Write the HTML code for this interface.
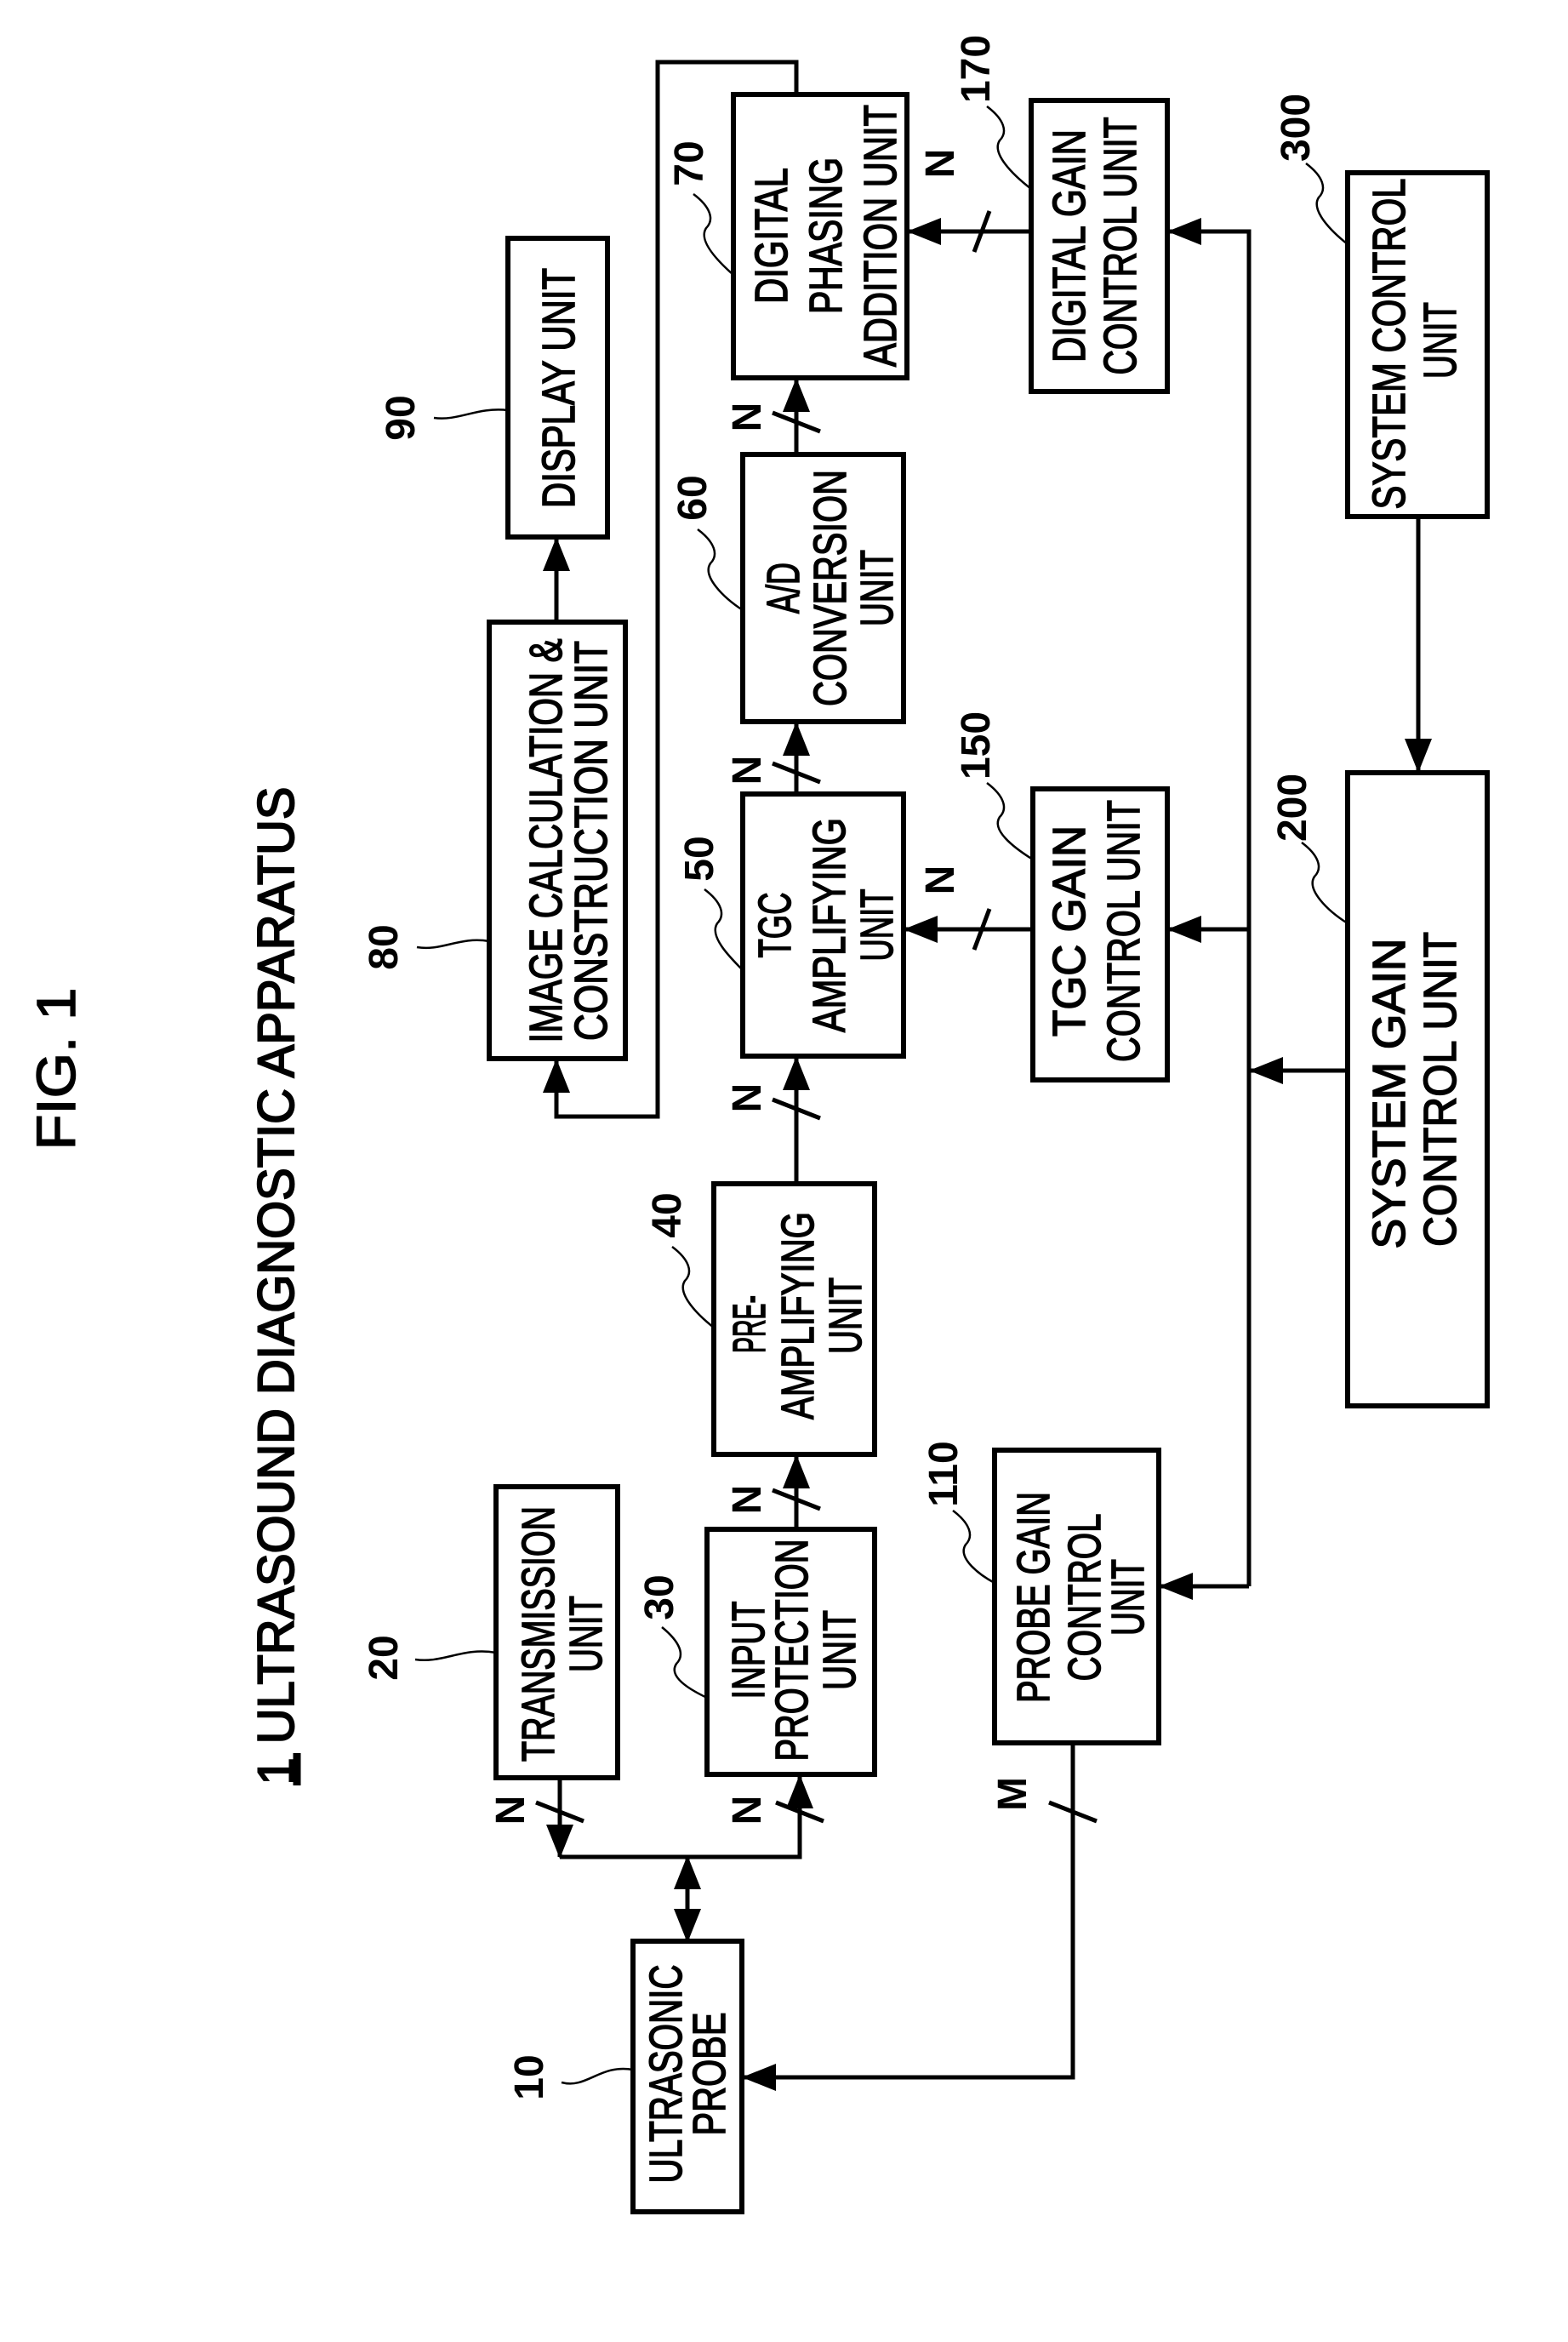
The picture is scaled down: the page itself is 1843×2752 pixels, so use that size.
<!DOCTYPE html>
<html><head><meta charset="utf-8"><style>
html,body{margin:0;padding:0;background:#fff;}
svg{display:block;}
text{font-family:"Liberation Sans",sans-serif;fill:#000;}
.b{font-size:54px;stroke:#000;stroke-width:1.6px;}
.n{font-size:48px;font-weight:bold;}
</style></head><body>
<svg width="1843" height="2752" viewBox="0 0 1843 2752" xmlns="http://www.w3.org/2000/svg">
<defs>
<marker id="a" markerUnits="userSpaceOnUse" markerWidth="40" markerHeight="32" refX="38" refY="16" orient="auto-start-reverse">
<path d="M0,0 L40,16 L0,32 Z" fill="#000"/></marker>
</defs>
<g fill="none" stroke="#000" stroke-width="6">
<rect x="597" y="280" width="117" height="351"/>
<rect x="575" y="731" width="160" height="513"/>
<rect x="862" y="111" width="204" height="333"/>
<rect x="873" y="534" width="189" height="314"/>
<rect x="873" y="933" width="189" height="308"/>
<rect x="1212" y="118" width="160" height="342"/>
<rect x="1214" y="927" width="158" height="342"/>
<rect x="1584" y="203" width="164" height="404"/>
<rect x="1584" y="908" width="164" height="744"/>
<rect x="839" y="1391" width="189" height="318"/>
<rect x="831" y="1797" width="197" height="288"/>
<rect x="583" y="1747" width="143" height="342"/>
<rect x="1169" y="1704" width="193" height="344"/>
<rect x="744" y="2281" width="128" height="318"/>
</g>
<g fill="none" stroke="#000" stroke-width="5">
<line x1="936" y1="1797" x2="936" y2="1711" marker-end="url(#a)"/>
<line x1="936" y1="1391" x2="936" y2="1243" marker-end="url(#a)"/>
<line x1="936" y1="933" x2="936" y2="850" marker-end="url(#a)"/>
<line x1="936" y1="534" x2="936" y2="446" marker-end="url(#a)"/>
<polyline points="936,111 936,73 773,73 773,1312 654,1312 654,1246" marker-end="url(#a)"/>
<line x1="654" y1="731" x2="654" y2="633" marker-end="url(#a)"/>
<polyline points="658,2089 658,2182"/>
<line x1="658" y1="2120" x2="658" y2="2182" marker-end="url(#a)"/>
<polyline points="658,2182 940,2182 940,2087" marker-end="url(#a)"/>
<line x1="808" y1="2182" x2="808" y2="2281" marker-start="url(#a)" marker-end="url(#a)"/>
<polyline points="1261,2048 1261,2441 874,2441" marker-end="url(#a)"/>
<line x1="1212" y1="272" x2="1068" y2="272" marker-end="url(#a)"/>
<line x1="1214" y1="1092" x2="1064" y2="1092" marker-end="url(#a)"/>
<polyline points="1468,1864 1468,272 1374,272" marker-end="url(#a)"/>
<line x1="1468" y1="1092" x2="1374" y2="1092" marker-end="url(#a)"/>
<line x1="1468" y1="1864" x2="1364" y2="1864" marker-end="url(#a)"/>
<line x1="1584" y1="1258" x2="1470" y2="1258" marker-end="url(#a)"/>
<line x1="1667" y1="607" x2="1667" y2="906" marker-end="url(#a)"/>
<line x1="630" y1="2118" x2="686" y2="2140"/>
<line x1="912" y1="2118" x2="968" y2="2140"/>
<line x1="908" y1="1751" x2="964" y2="1773"/>
<line x1="908" y1="1292" x2="964" y2="1314"/>
<line x1="908" y1="897" x2="964" y2="919"/>
<line x1="908" y1="485" x2="964" y2="507"/>
<line x1="1145" y1="296" x2="1163" y2="248"/>
<line x1="1145" y1="1116" x2="1163" y2="1068"/>
<line x1="1233" y1="2118" x2="1289" y2="2140"/>
<line x1="349" y1="2060" x2="349" y2="2098" stroke-width="9"/>
</g>
<g fill="none" stroke="#000" stroke-width="2.5">
<path d="M510,491 C540,495 560,478 597,482"/>
<path d="M490,1113 C520,1118 540,1100 575,1106"/>
<path d="M488,1950 C520,1955 545,1935 583,1942"/>
<path d="M660,2447 C690,2455 705,2425 744,2432"/>
<path d="M778,1912 C800,1930 805,1945 795,1955 C785,1970 810,1985 831,1995"/>
<path d="M790,1465 C810,1480 815,1495 805,1505 C795,1520 820,1545 839,1560"/>
<path d="M828,1045 C848,1060 853,1075 843,1085 C833,1100 858,1125 873,1140"/>
<path d="M820,622 C840,637 845,652 835,662 C825,677 850,702 873,717"/>
<path d="M815,228 C835,243 840,258 830,268 C820,283 845,308 862,323"/>
<path d="M1120,1775 C1140,1790 1145,1805 1135,1815 C1125,1830 1150,1850 1169,1860"/>
<path d="M1160,920 C1180,935 1185,950 1175,960 C1165,975 1190,995 1214,1010"/>
<path d="M1160,125 C1180,140 1185,155 1175,165 C1165,180 1190,205 1212,222"/>
<path d="M1530,990 C1550,1005 1555,1020 1545,1030 C1535,1045 1560,1070 1584,1085"/>
<path d="M1535,192 C1555,207 1560,222 1550,232 C1540,247 1565,272 1584,287"/>
</g>
<text transform="translate(88,1256) rotate(-90)" text-anchor="middle" font-size="64" stroke="#000" stroke-width="1.5" textLength="191" lengthAdjust="spacingAndGlyphs">FIG. 1</text>
<text transform="translate(345,1511) rotate(-90)" text-anchor="middle" font-size="60" stroke="#000" stroke-width="2" textLength="1173" lengthAdjust="spacingAndGlyphs">1 ULTRASOUND DIAGNOSTIC APPARATUS</text>
<g class="b" text-anchor="middle">
<text transform="translate(675,456) rotate(-90)" textLength="282" lengthAdjust="spacingAndGlyphs">DISPLAY UNIT</text>
<text transform="translate(660,988) rotate(-90)" textLength="475" lengthAdjust="spacingAndGlyphs">IMAGE CALCULATION &amp;</text>
<text transform="translate(713,988) rotate(-90)" textLength="470" lengthAdjust="spacingAndGlyphs">CONSTRUCTION UNIT</text>
<text transform="translate(925,277) rotate(-90)" textLength="160" lengthAdjust="spacingAndGlyphs">DIGITAL</text>
<text transform="translate(989,277) rotate(-90)" textLength="184" lengthAdjust="spacingAndGlyphs">PHASING</text>
<text transform="translate(1053,277) rotate(-90)" textLength="308" lengthAdjust="spacingAndGlyphs">ADDITION UNIT</text>
<text transform="translate(939,691) rotate(-90)" textLength="60" lengthAdjust="spacingAndGlyphs">A/D</text>
<text transform="translate(994,691) rotate(-90)" textLength="278" lengthAdjust="spacingAndGlyphs">CONVERSION</text>
<text transform="translate(1049,691) rotate(-90)" textLength="90" lengthAdjust="spacingAndGlyphs">UNIT</text>
<text transform="translate(929,1087) rotate(-90)" textLength="77" lengthAdjust="spacingAndGlyphs">TGC</text>
<text transform="translate(993,1087) rotate(-90)" textLength="252" lengthAdjust="spacingAndGlyphs">AMPLIFYING</text>
<text transform="translate(1049,1087) rotate(-90)" textLength="85" lengthAdjust="spacingAndGlyphs">UNIT</text>
<text transform="translate(1275,289) rotate(-90)" textLength="274" lengthAdjust="spacingAndGlyphs">DIGITAL GAIN</text>
<text transform="translate(1335,289) rotate(-90)" textLength="303" lengthAdjust="spacingAndGlyphs">CONTROL UNIT</text>
<text transform="translate(1275,1094) rotate(-90)" textLength="248" lengthAdjust="spacingAndGlyphs">TGC GAIN</text>
<text transform="translate(1339,1094) rotate(-90)" textLength="308" lengthAdjust="spacingAndGlyphs">CONTROL UNIT</text>
<text transform="translate(1651,404) rotate(-90)" textLength="389" lengthAdjust="spacingAndGlyphs">SYSTEM CONTROL</text>
<text transform="translate(1711,400) rotate(-90)" textLength="90" lengthAdjust="spacingAndGlyphs">UNIT</text>
<text transform="translate(1651,1285) rotate(-90)" textLength="365" lengthAdjust="spacingAndGlyphs">SYSTEM GAIN</text>
<text transform="translate(1711,1280) rotate(-90)" textLength="370" lengthAdjust="spacingAndGlyphs">CONTROL UNIT</text>
<text transform="translate(899,1556) rotate(-90)" textLength="68" lengthAdjust="spacingAndGlyphs">PRE-</text>
<text transform="translate(956,1546) rotate(-90)" textLength="244" lengthAdjust="spacingAndGlyphs">AMPLIFYING</text>
<text transform="translate(1012,1546) rotate(-90)" textLength="90" lengthAdjust="spacingAndGlyphs">UNIT</text>
<text transform="translate(898,1939) rotate(-90)" textLength="115" lengthAdjust="spacingAndGlyphs">INPUT</text>
<text transform="translate(949,1939) rotate(-90)" textLength="261" lengthAdjust="spacingAndGlyphs">PROTECTION</text>
<text transform="translate(1005,1939) rotate(-90)" textLength="94" lengthAdjust="spacingAndGlyphs">UNIT</text>
<text transform="translate(651,1920) rotate(-90)" textLength="300" lengthAdjust="spacingAndGlyphs">TRANSMISSION</text>
<text transform="translate(707,1920) rotate(-90)" textLength="90" lengthAdjust="spacingAndGlyphs">UNIT</text>
<text transform="translate(1233,1877) rotate(-90)" textLength="248" lengthAdjust="spacingAndGlyphs">PROBE GAIN</text>
<text transform="translate(1293,1877) rotate(-90)" textLength="197" lengthAdjust="spacingAndGlyphs">CONTROL</text>
<text transform="translate(1344,1877) rotate(-90)" textLength="90" lengthAdjust="spacingAndGlyphs">UNIT</text>
<text transform="translate(801,2437) rotate(-90)" textLength="257" lengthAdjust="spacingAndGlyphs">ULTRASONIC</text>
<text transform="translate(852,2437) rotate(-90)" textLength="145" lengthAdjust="spacingAndGlyphs">PROBE</text>
</g>
<g class="n" text-anchor="middle">
<text transform="translate(487,491) rotate(-90)">90</text>
<text transform="translate(467,1113) rotate(-90)">80</text>
<text transform="translate(467,1948) rotate(-90)">20</text>
<text transform="translate(638,2441) rotate(-90)">10</text>
<text transform="translate(791,1877) rotate(-90)">30</text>
<text transform="translate(800,1428) rotate(-90)">40</text>
<text transform="translate(838,1009) rotate(-90)">50</text>
<text transform="translate(830,585) rotate(-90)">60</text>
<text transform="translate(826,192) rotate(-90)">70</text>
<text transform="translate(1125,1732) rotate(-90)">110</text>
<text transform="translate(1163,876) rotate(-90)">150</text>
<text transform="translate(1163,81) rotate(-90)">170</text>
<text transform="translate(1535,949) rotate(-90)">200</text>
<text transform="translate(1539,150) rotate(-90)">300</text>
<text transform="translate(616,2127) rotate(-90)">N</text>
<text transform="translate(894,2127) rotate(-90)">N</text>
<text transform="translate(894,1762) rotate(-90)">N</text>
<text transform="translate(894,1290) rotate(-90)">N</text>
<text transform="translate(894,905) rotate(-90)">N</text>
<text transform="translate(894,490) rotate(-90)">N</text>
<text transform="translate(1121,192) rotate(-90)">N</text>
<text transform="translate(1121,1034) rotate(-90)">N</text>
<text transform="translate(1206,2108) rotate(-90)">M</text>
</g>
</svg>
</body></html>
